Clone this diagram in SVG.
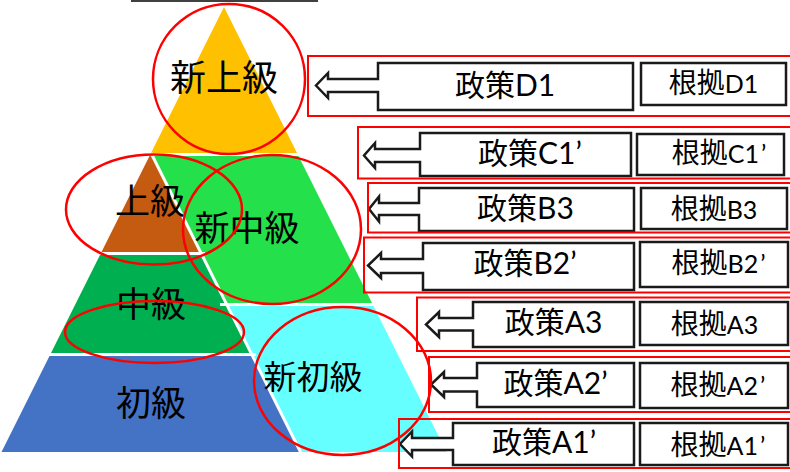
<svg xmlns="http://www.w3.org/2000/svg" width="790" height="472" viewBox="0 0 790 472">
<style>
.lvl{font-family:"Noto Sans CJK JP","Noto Sans CJK SC",sans-serif;font-size:35px;fill:#000;text-anchor:middle;dominant-baseline:central}
.pol{font-family:Lato,"Noto Sans CJK JP",sans-serif;font-size:30px;fill:#000;text-anchor:middle;dominant-baseline:central}
.bas{font-family:Lato,"Noto Sans CJK JP",sans-serif;font-size:28px;fill:#000;text-anchor:middle}
.lat{font-size:25px}
.call{fill:#fff;stroke:#1a1a1a;stroke-width:2.5;stroke-linejoin:miter}
.box{fill:#fff;stroke:#1a1a1a;stroke-width:2.5}
.frame{fill:none;stroke:#ff0000;stroke-width:2}
.ring{fill:none;stroke:#ff0000;stroke-width:2.5}
.gap{stroke:#fff;stroke-width:3;fill:none}
</style>
<rect width="790" height="472" fill="#fff"/>
<line x1="131" y1="1" x2="318" y2="1" stroke="#404040" stroke-width="2"/>

<g id="pyramid">
  <polygon id="shin-joukyu-shape" points="224,7 297,153 151,153" fill="#FFC000"/>
  <polygon id="joukyu-shape" points="151,153 101,253 201,253" fill="#C55A11"/>
  <polygon id="chuukyu-shape" points="101,253 201,253 251.5,354 50.5,354" fill="#00B050"/>
  <polygon id="shokyu-shape" points="50.5,354 251.5,354 300.5,452 1.5,452" fill="#4472C4"/>
  <polygon id="shin-chuukyu-shape" points="151,153 297,153 372.5,304 226.5,304" fill="#23E04B"/>
  <polygon id="shin-shokyu-shape" points="226.5,304 372.5,304 446.5,452 300.5,452" fill="#66FFFF"/>
  <line class="gap" x1="140" y1="154.5" x2="310" y2="154.5"/>
  <line class="gap" x1="90" y1="253.5" x2="205" y2="253.5"/>
  <line class="gap" x1="220" y1="304.5" x2="380" y2="304.5"/>
  <line class="gap" x1="45" y1="354.5" x2="256" y2="354.5"/>
  <line class="gap" x1="151" y1="153" x2="300.5" y2="452"/>
</g>

<g id="node-shin-joukyu"><text class="lvl" x="224" y="75" style="font-size:36px">新上級</text></g>
<g id="node-joukyu"><text class="lvl" x="150" y="198">上級</text></g>
<g id="node-shin-chuukyu"><text class="lvl" x="247" y="225">新中級</text></g>
<g id="node-chuukyu"><text class="lvl" x="151" y="301">中級</text></g>
<g id="node-shokyu"><text class="lvl" x="151" y="400">初級</text></g>
<g id="node-shin-shokyu"><text class="lvl" x="313" y="375" style="font-size:33px">新初級</text></g>

<g id="row-D1">
  <path class="call" d="M378,63 H633 V110 H378 V92 H328 V98 L316,85.5 L328,73 V79 H378 Z"/>
  <rect class="box" x="641" y="63" width="145" height="42"/>
  <text class="pol" x="505" y="84">政策D1</text>
  <text class="bas" x="713.5" y="93">根拠<tspan class="lat">D1</tspan></text>
  <rect class="frame" x="308" y="56" width="492" height="60"/>
</g>
<g id="row-C1">
  <path class="call" d="M420,133 H631 V176 H420 V162 H375 V168 L364,155.5 L375,143 V149 H420 Z"/>
  <rect class="box" x="637" y="134" width="147" height="41"/>
  <text class="pol" x="530" y="151.5">政策C1’</text>
  <text class="bas" x="719" y="163">根拠<tspan class="lat">C1<tspan dx="2">’</tspan></tspan></text>
  <rect class="frame" x="358" y="127" width="442" height="51.5"/>
</g>
<g id="row-B3">
  <path class="call" d="M419,188 H634 V231 H419 V215 H379 V221.5 L369,209 L379,196.5 V203 H419 Z"/>
  <rect class="box" x="641" y="188" width="146" height="41"/>
  <text class="pol" x="525.5" y="206.5">政策B3</text>
  <text class="bas" x="714" y="219">根拠<tspan class="lat">B3</tspan></text>
  <rect class="frame" x="368" y="183" width="432" height="49.5"/>
</g>
<g id="row-B2">
  <path class="call" d="M423,243 H634 V290 H423 V273 H381 V278 L368,265.5 L381,253 V259 H423 Z"/>
  <rect class="box" x="640" y="242" width="148" height="45"/>
  <text class="pol" x="525" y="261.5">政策B2’</text>
  <text class="bas" x="718.5" y="273">根拠<tspan class="lat">B2<tspan dx="2">’</tspan></tspan></text>
  <rect class="frame" x="364" y="237.5" width="436" height="55"/>
</g>
<g id="row-A3">
  <path class="call" d="M473,302 H634 V347 H473 V330.5 H439 V337 L426,324.5 L439,312 V318 H473 Z"/>
  <rect class="box" x="640" y="302" width="148" height="43"/>
  <text class="pol" x="553.5" y="320.5">政策A3</text>
  <text class="bas" x="714.5" y="333.5">根拠<tspan class="lat">A3</tspan></text>
  <rect class="frame" x="417" y="297.5" width="383" height="53.5"/>
</g>
<g id="row-A2">
  <path class="call" d="M477,363 H634 V407 H477 V391.5 H444 V397 L431,384.5 L444,372 V378 H477 Z"/>
  <rect class="box" x="640" y="363" width="148" height="45"/>
  <text class="pol" x="555.5" y="382">政策A2’</text>
  <text class="bas" x="718" y="395">根拠<tspan class="lat">A2<tspan dx="2">’</tspan></tspan></text>
  <rect class="frame" x="429" y="357" width="371" height="55"/>
</g>
<g id="row-A1">
  <path class="call" d="M453,423 H634 V465 H453 V450 H412 V456.5 L400,444 L412,431.5 V438 H453 Z"/>
  <rect class="box" x="640" y="423" width="148" height="42"/>
  <text class="pol" x="544" y="440.5">政策A1’</text>
  <text class="bas" x="718" y="455">根拠<tspan class="lat">A1<tspan dx="2">’</tspan></tspan></text>
  <rect class="frame" x="399" y="419" width="401" height="49"/>
</g>

<g id="highlights">
  <ellipse class="ring" cx="229" cy="79" rx="76" ry="75"/>
  <ellipse class="ring" cx="154" cy="209.5" rx="88" ry="55"/>
  <ellipse class="ring" cx="272" cy="229.5" rx="89" ry="74.5"/>
  <ellipse class="ring" cx="154.5" cy="332" rx="89.5" ry="31"/>
  <ellipse class="ring" cx="342.5" cy="381" rx="88.5" ry="74"/>
</g>
</svg>
